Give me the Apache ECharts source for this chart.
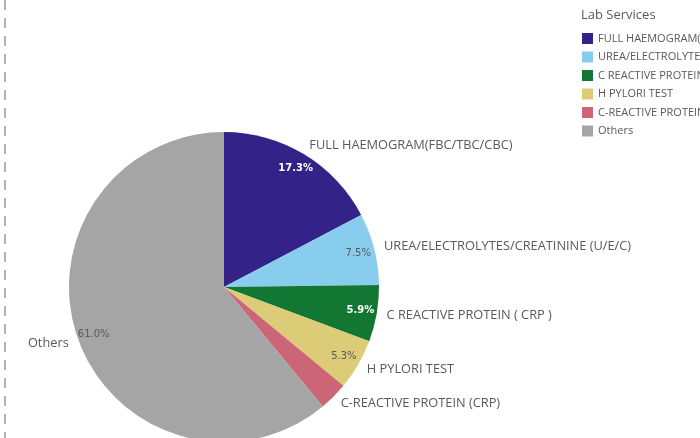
<!DOCTYPE html>
<html>
<head>
<meta charset="utf-8">
<script src="https://cdn.jsdelivr.net/npm/echarts@6/dist/echarts.min.js"></script>
<style>
html, body { margin: 0; padding: 0; background: #fff; }
#main { width: 700px; height: 438px; }
</style>
</head>
<body>
<div id="main"></div>
<script>
var services = ['FULL HAEMOGRAM(FBC/TBC/CBC)', 'UREA/ELECTROLYTES/CREATININE (U/E/C)', 'C REACTIVE PROTEIN ( CRP )', 'H PYLORI TEST', 'C-REACTIVE PROTEIN (CRP)', 'Others'];
var shares = [17.3, 7.5, 5.9, 5.3, 3.0, 61.0];
var colors = ['#332288', '#88CCEE', '#117733', '#DDCC77', '#CC6677', '#A5A5A5'];
var pctColors = ['#ffffff', '#595959', '#ffffff', '#595959', '#595959', '#595959'];

var myChart = echarts.init(document.getElementById('main'));

var slices = services.map(function (name, i) {
    return {value: shares[i], name: name, itemStyle: {color: colors[i]}};
});
var pctSlices = services.map(function (name, i) {
    return {
        value: shares[i],
        name: name,
        label: {
            show: shares[i] >= 5,
            color: pctColors[i],
            fontWeight: pctColors[i] === '#ffffff' ? 'bold' : 'normal'
        }
    };
});

option = {
    animation: false,
    title: {
        text: 'Lab Services',
        left: 576,
        top: 4,
        textStyle: {
            color: '#595959',
            fontSize: 13,
            fontWeight: 'normal',
            fontFamily: 'Open Sans'
        }
    },
    legend: {
        orient: 'vertical',
        left: 577,
        top: 28,
        icon: 'rect',
        itemWidth: 11,
        itemHeight: 11,
        itemGap: 7.5,
        textStyle: {
            color: '#595959',
            fontSize: 11,
            fontFamily: 'Open Sans'
        },
        data: services
    },
    graphic: [
        {
            type: 'line',
            shape: {x1: 5, y1: 0, x2: 5, y2: 438},
            style: {stroke: '#9a9a9a', lineWidth: 1.5, lineDash: [10, 8]}
        }
    ],
    series: [
        {
            name: 'Lab Services',
            type: 'pie',
            center: [224, 287],
            radius: 155,
            startAngle: 90,
            clockwise: true,
            avoidLabelOverlap: false,
            itemStyle: {borderWidth: 0},
            label: {
                show: true,
                position: 'outside',
                color: '#595959',
                fontSize: 12.8,
                fontFamily: 'Open Sans',
                distanceToLabelLine: 0,
                formatter: '{b}'
            },
            labelLine: {show: false, length: 10, length2: 0},
            data: slices
        },
        {
            name: 'pct',
            type: 'pie',
            center: [224, 287],
            radius: [116, 155],
            startAngle: 90,
            clockwise: true,
            silent: true,
            avoidLabelOverlap: false,
            itemStyle: {color: 'transparent'},
            label: {
                show: true,
                position: 'inside',
                fontSize: 10,
                fontFamily: 'DejaVu Sans',
                formatter: function (p) { return p.value.toFixed(1) + '%'; }
            },
            labelLine: {show: false},
            data: pctSlices
        }
    ]
};
myChart.setOption(option);
</script>
</body>
</html>
